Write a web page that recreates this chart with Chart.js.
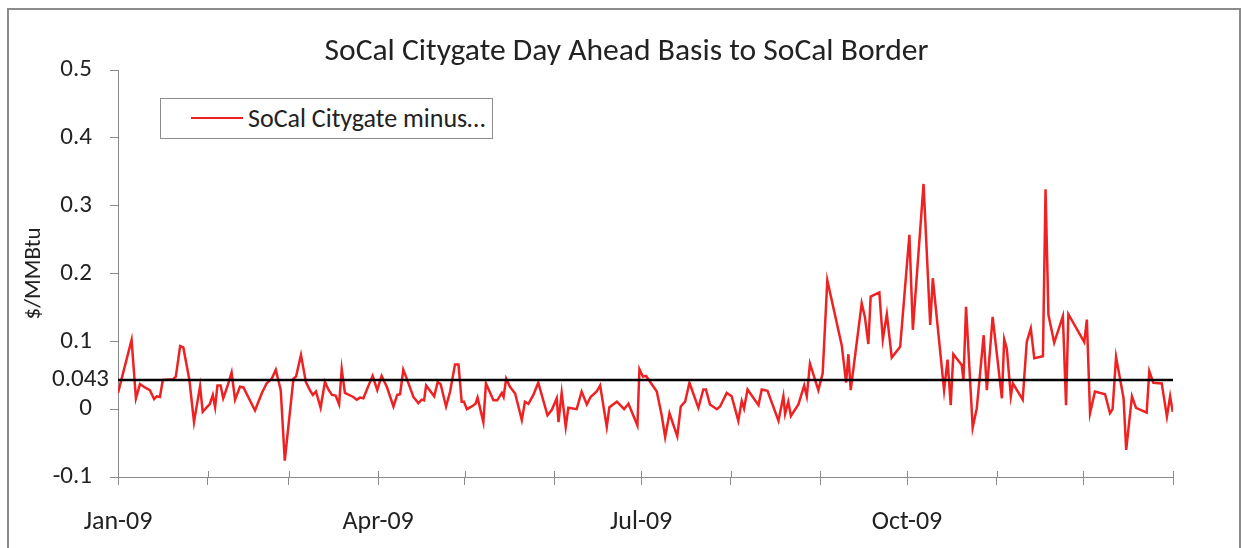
<!DOCTYPE html>
<html><head><meta charset="utf-8">
<script src="https://cdn.jsdelivr.net/npm/chart.js@4.4.1/dist/chart.umd.min.js"></script>
<style>
html,body{margin:0;padding:0;background:#fff;}
#wrap{position:relative;width:1243px;height:548px;overflow:hidden;font-family:Carlito,Calibri,Lato,sans-serif;}
#frame{position:absolute;left:7px;top:8px;width:1234px;height:545px;border:2px solid #8c8c8c;box-sizing:border-box;}
#c{position:absolute;left:0;top:0;}
#title{position:absolute;left:0;width:1253px;top:31px;text-align:center;font-size:31.6px;color:#222;line-height:36px;white-space:nowrap;}
#legend{position:absolute;left:160px;top:98px;width:333px;height:41px;border:1px solid #8c8c8c;box-sizing:border-box;background:#fff;}
#legend .ln{position:absolute;left:30px;top:18px;width:52px;height:2px;background:#ee2222;}
#legend .tx{position:absolute;left:87px;top:3px;font-size:26px;line-height:32px;color:#222;white-space:nowrap;}
</style></head>
<body>
<div id="wrap">
<div id="frame"></div>
<canvas id="c" width="1243" height="548"></canvas>
<div id="title">SoCal Citygate Day Ahead Basis to SoCal Border</div>
<div id="legend"><div class="ln"></div><div class="tx">SoCal Citygate minus…</div></div>
</div>
<script>
const monthStarts = [0,31,59,90,120,151,181,212,243,273,304,334,365];
const monthLabels = ['Jan-09','','','Apr-09','','','Jul-09','','','Oct-09','','',''];
const yTickValues = [-0.1,0,0.1,0.2,0.3,0.4,0.5];
const yTickLabels = ['-0.1','0','0.1','0.2','0.3','0.4','0.5'];
const refLevel = 0.043;
const refLabel = '0.043';
// day offset from Jan 1, 2009
const days = [0,4.7,6.2,7.6,9.3,11,12.5,13.4,14.5,15.5,19,20,21.5,22.6,24.7,26.3,28.4,29.3,31.8,32.8,33.6,34.4,35.5,36.4,37.8,39.3,40.5,42.2,43.4,47.4,49.7,51.4,53.2,54.6,56.3,57.7,60.7,61.6,63.3,65,66.4,67.4,68.5,70.1,71.6,72.8,74,75.3,76.5,77.4,78.5,81.4,82.6,83.7,84.9,86.6,88.1,89.7,91.2,93,95.3,96.6,97.6,98.7,99.9,102.2,103.9,105.1,105.9,106.6,109.4,110.6,111.6,113.5,114.9,116.6,117.8,118.9,119.7,120.7,122.4,123.7,124.4,126.4,127.3,129.9,131.2,132.8,133.4,134.3,135.6,137.4,139.7,140.8,142,143.7,145.4,148.6,150.1,151.8,152.4,153.5,154.9,155.8,158.7,160.4,162.2,163.5,165.6,166.8,169.1,170,172.6,175.1,176.6,179.7,180.4,181.6,182.7,186.4,188.1,189.3,190.8,193.5,194.7,196.2,197.7,200.8,202.5,203.4,204.8,207.2,208.3,210.6,212.3,214.6,215.8,216.6,217.8,221.6,222.7,224.7,228.5,230.2,230.8,231.9,232.8,235.4,237.4,238.3,239.4,242.3,243.8,245.4,250.4,251.9,252.7,253.5,257.3,258.4,259.6,260.4,263.4,264.6,266,267.7,270.6,273.8,275,278.7,281,281.9,285.8,287,288.1,289,291.9,292.5,293.4,295.7,297.1,299.5,300.6,302.6,305.8,306.6,307.5,308.9,309.6,313,314.4,315.8,317,320,320.9,321.9,323.9,326.9,328,328.8,334.3,335.2,336.3,338,341.5,343.2,344.1,345.3,347.9,348.8,350.8,352.2,355.9,356.8,358.2,361.1,362.9,364,364.9];
const basis = [0.024,0.102,0.016,0.037,0.032,0.028,0.015,0.019,0.018,0.043,0.044,0.048,0.093,0.091,0.043,-0.019,0.034,-0.004,0.008,0.021,0.003,0.035,0.035,0.016,0.033,0.054,0.014,0.033,0.032,-0.002,0.023,0.038,0.045,0.058,0.028,-0.076,0.045,0.048,0.080,0.040,0.028,0.021,0.026,0.002,0.040,0.029,0.021,0.020,0.007,0.059,0.024,0.018,0.014,0.017,0.016,0.034,0.049,0.028,0.049,0.033,0.004,0.021,0.022,0.058,0.045,0.018,0.009,0.014,0.013,0.035,0.019,0.040,0.037,0.004,0.026,0.066,0.066,0.011,0.011,0.000,0.004,0.008,0.017,-0.019,0.038,0.013,0.013,0.024,0.018,0.045,0.033,0.023,-0.016,0.011,0.008,0.021,0.039,-0.009,-0.001,0.016,-0.019,0.024,-0.026,0.002,0.000,0.026,0.007,0.018,0.026,0.035,-0.026,0.003,0.011,0.000,0.008,-0.024,0.059,0.048,0.049,0.026,-0.009,-0.041,-0.006,-0.040,0.004,0.011,0.039,0.002,0.029,0.029,0.007,0.000,0.004,0.024,0.019,-0.017,0.012,0.001,0.029,0.006,0.029,0.027,-0.017,0.019,-0.007,0.011,-0.010,0.007,0.035,0.019,0.067,0.028,0.053,0.190,0.094,0.039,0.081,0.028,0.156,0.136,0.096,0.166,0.172,0.103,0.140,0.076,0.092,0.257,0.117,0.332,0.124,0.193,0.028,0.073,0.006,0.081,0.065,0.043,0.151,-0.027,0.001,0.109,0.028,0.136,0.016,0.103,0.089,0.019,0.038,0.014,0.099,0.119,0.075,0.078,0.324,0.139,0.098,0.137,0.006,0.140,0.099,0.132,-0.006,0.026,0.022,-0.006,0.000,0.077,0.016,-0.060,0.019,0.002,-0.005,0.056,0.039,0.038,-0.011,0.019,-0.004];

const FONT = 'Carlito, Calibri, Lato, sans-serif';
const AXIS = '#8a8a8a';
const TXT = '#222';

const extras = {
  id: 'extras',
  afterDraw(chart) {
    const {ctx, scales: {x, y}} = chart;
    ctx.save();
    // inner half of the month tick marks (ticks cross the axis)
    ctx.strokeStyle = AXIS;
    ctx.lineWidth = 1;
    monthStarts.forEach(v => {
      const px = Math.round(x.getPixelForValue(v)) + 0.5;
      ctx.beginPath();
      ctx.moveTo(px, y.bottom - 6);
      ctx.lineTo(px, y.bottom);
      ctx.stroke();
    });
    // label for the reference level line
    ctx.fillStyle = TXT;
    ctx.font = '25px ' + FONT;
    ctx.textAlign = 'right';
    ctx.textBaseline = 'middle';
    ctx.fillText(refLabel, x.left - 9, y.getPixelForValue(refLevel));
    ctx.restore();
  }
};

new Chart(document.getElementById('c'), {
  type: 'line',
  data: {
    datasets: [
      {
        label: 'SoCal Citygate minus SoCal Border',
        data: days.map((d, i) => ({x: d, y: basis[i]})),
        borderColor: '#ee2222',
        borderWidth: 2.5,
        pointRadius: 0,
        tension: 0,
        order: 1
      },
      {
        label: 'Average',
        data: [{x: monthStarts[0], y: refLevel}, {x: monthStarts[monthStarts.length - 1], y: refLevel}],
        borderColor: '#000',
        borderWidth: 2.5,
        pointRadius: 0,
        order: 0
      }
    ]
  },
  options: {
    responsive: false,
    animation: false,
    devicePixelRatio: 1,
    layout: {padding: {left: 0, right: 70, top: 70, bottom: 0}},
    plugins: {legend: {display: false}, title: {display: false}, tooltip: {enabled: false}},
    scales: {
      x: {
        type: 'linear',
        min: 0,
        max: 365,
        afterBuildTicks: s => { s.ticks = monthStarts.map(v => ({value: v})); },
        afterFit: s => { s.height = 71; },
        ticks: {autoSkip: false, maxRotation: 0, padding: 22, color: TXT,
                font: {family: FONT, size: 26},
                callback: (v, i) => monthLabels[i]},
        grid: {drawOnChartArea: false, tickLength: 8, color: AXIS, lineWidth: 1},
        border: {color: AXIS, width: 1}
      },
      y: {
        min: -0.1,
        max: 0.5,
        afterBuildTicks: s => { s.ticks = yTickValues.map(v => ({value: v})); },
        afterFit: s => { s.width = 118; },
        ticks: {padding: 18, color: TXT, font: {family: FONT, size: 25},
                callback: (v, i) => yTickLabels[i]},
        grid: {drawOnChartArea: false, tickLength: 8, color: AXIS, lineWidth: 1},
        border: {color: AXIS, width: 1},
        title: {display: true, text: '$/MMBtu', color: TXT, font: {family: FONT, size: 23}, padding: {top: 20, bottom: 0}}
      }
    }
  },
  plugins: [extras]
});
</script>
</body></html>
